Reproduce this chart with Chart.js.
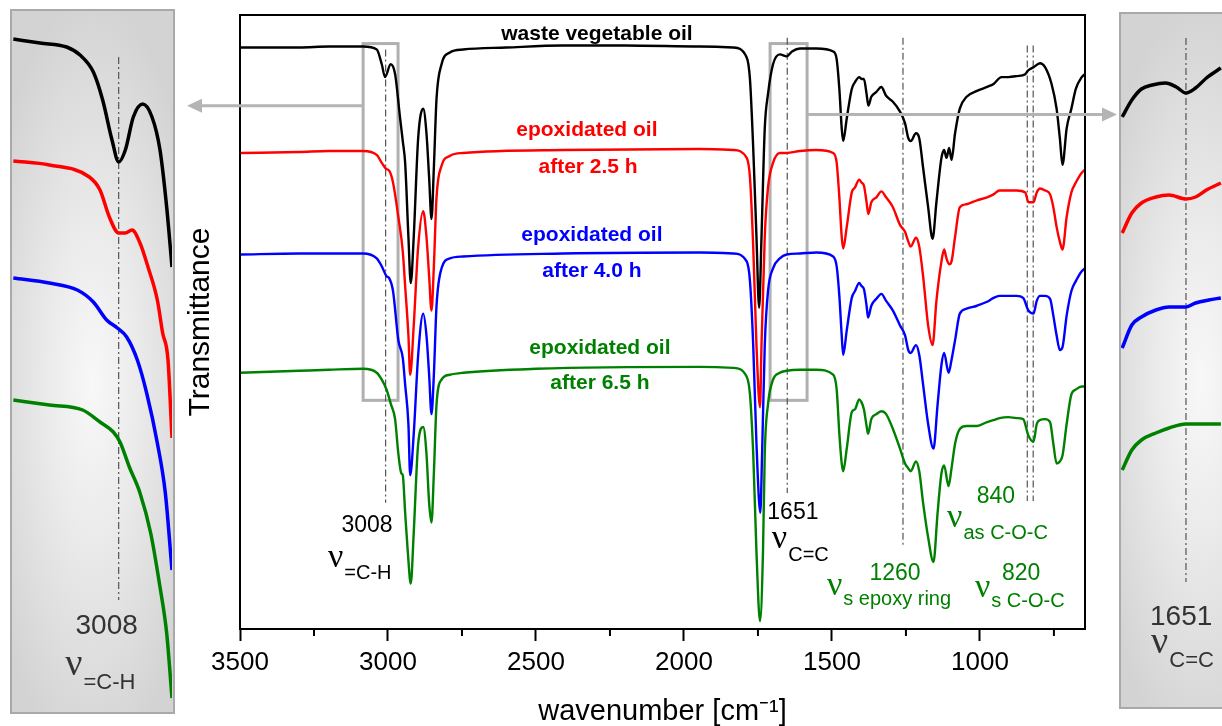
<!DOCTYPE html>
<html>
<head>
<meta charset="utf-8">
<script src="https://cdn.jsdelivr.net/npm/chart.js@4.4.0/dist/chart.umd.min.js"></script>
<style>
html, body { margin: 0; padding: 0; background: #fff; overflow: hidden; width: 1222px; height: 726px; }
#main { position: absolute; left: 0; top: 0; }
.inset { position: absolute; border: 2px solid #a9a9a9; box-sizing: border-box;
  background: radial-gradient(ellipse 70% 55% at 50% 53%, #f8f8f8 0%, #ebebeb 40%, #d3d3d3 100%); }
#insL { left: 10px; top: 9px; width: 165px; height: 705px; }
#insR { left: 1119px; top: 12px; width: 165px; height: 697px; }
.inset canvas { position: absolute; left: 0; top: 0; }
</style>
</head>
<body>
<canvas id="main" width="1222" height="726"></canvas>
<div class="inset" id="insL"><canvas id="cL" width="160" height="701"></canvas></div>
<div class="inset" id="insR"><canvas id="cR" width="160" height="693"></canvas></div>
<script>
// wavenumber [cm-1] and offset transmittance (arbitrary units)
var wnBlack = [3500,3300,3200,3084,3038,3021,3010,2991,2976,2959,2950,2942,2931,2923,2913,2898,2881,2870,2861,2853,2845,2836,2819,2791,2746,2600,2409,2200,1946,1834,1788,1777,1766,1755,1746,1738,1727,1716,1699,1676,1653,1635,1608,1552,1496,1484,1475,1467,1462,1450,1433,1422,1408,1400,1392,1383,1377,1367,1350,1333,1317,1294,1270,1253,1242,1234,1216,1205,1192,1175,1160,1147,1130,1121,1113,1104,1096,1084,1068,1045,1010,976,954,927,904,876,847,836,819,797,780,758,741,730,721,707,691,676,656,645];
var tBlack = [590,590,591,591,588,573,560,573,563,518,495,473,398,351,398,498,528,503,458,416,468,538,573,585,588,590,592,592,591,590,580,558,488,398,326,398,508,543,573,583,581,586,589,589,586,578,548,508,495,518,548,555,560,558,558,543,531,540,545,550,541,535,525,513,498,495,503,498,468,428,396,433,478,486,478,488,476,503,528,540,546,550,553,560,560,561,563,567,570,574,570,553,528,498,471,508,528,548,560,563];

var wnRed = [3500,3300,3200,3084,3038,3021,3007,2996,2983,2965,2950,2942,2931,2925,2913,2898,2881,2870,2861,2853,2845,2836,2819,2791,2746,2409,1946,1834,1788,1777,1766,1755,1743,1738,1727,1716,1699,1676,1653,1608,1552,1496,1484,1475,1467,1462,1450,1433,1422,1408,1400,1392,1383,1377,1367,1350,1333,1317,1294,1270,1253,1242,1234,1216,1205,1192,1175,1160,1147,1130,1121,1113,1104,1096,1084,1068,1045,1010,976,954,934,904,876,847,836,819,808,797,780,763,752,741,730,721,707,691,676,656,645];
var tRed = [483,484,485,485,481,473,467,465,453,418,383,348,298,258,308,388,424,398,358,323,368,438,470,480,483,486,487,486,478,458,388,288,225,288,398,448,473,483,483,485,486,483,473,438,398,386,408,443,448,456,453,450,433,421,433,438,444,438,428,410,403,393,388,397,388,358,308,288,333,373,385,376,370,373,398,428,431,435,438,441,445,445,445,443,433,433,443,447,445,441,428,408,393,385,418,443,453,463,466];

var wnBlue = [3500,3300,3200,3084,3038,3021,3005,2996,2983,2965,2950,2942,2931,2925,2913,2898,2881,2870,2861,2853,2845,2836,2819,2791,2746,2409,1946,1834,1788,1777,1766,1755,1742,1736,1727,1716,1699,1676,1653,1608,1552,1496,1484,1475,1467,1462,1450,1433,1422,1408,1400,1392,1383,1378,1367,1350,1333,1317,1294,1270,1253,1242,1234,1216,1205,1192,1175,1157,1143,1130,1121,1106,1096,1084,1068,1045,1010,976,954,934,904,876,854,836,819,808,797,780,763,752,741,730,721,707,691,676,656,645];
var tBlue = [380,381,381,381,376,368,358,356,343,293,275,248,208,156,198,278,320,298,258,218,258,328,366,376,378,381,382,381,373,353,288,188,118,178,288,343,366,376,380,381,382,378,368,338,298,278,303,336,343,351,348,345,328,316,328,335,340,333,323,308,298,283,280,288,278,248,208,183,228,268,280,260,273,293,320,325,328,332,336,338,338,338,336,323,320,333,338,338,335,318,298,283,286,318,343,353,363,366];

var wnGreen = [3500,3300,3200,3084,3038,3021,3005,2990,2976,2965,2955,2950,2942,2933,2923,2913,2898,2881,2870,2861,2853,2845,2836,2819,2791,2746,2500,1946,1834,1788,1777,1766,1755,1743,1733,1727,1716,1699,1676,1653,1608,1552,1496,1484,1475,1467,1462,1450,1433,1422,1408,1400,1392,1383,1378,1367,1350,1333,1317,1294,1270,1253,1242,1234,1216,1205,1192,1175,1157,1143,1130,1121,1106,1096,1084,1068,1045,1010,976,954,934,904,876,854,836,819,808,797,780,763,752,741,730,721,707,691,676,656,645];
var tGreen = [260,262,263,264,260,253,243,228,213,178,158,156,118,78,46,98,188,205,178,128,108,158,228,253,258,260,264,266,265,256,238,178,78,8,78,178,228,253,260,262,263,263,258,243,198,168,160,183,220,223,233,230,223,206,198,213,218,221,218,203,183,168,163,160,170,160,128,93,68,118,158,166,145,163,188,203,206,206,210,212,214,215,214,213,196,190,208,212,213,210,188,168,170,176,208,238,243,246,246];

// left inset (=C-H region, zoomed)
var wnInsL_black = [3087,3067,3047,3037,3027,3020,3013,3008,3003,2997,2990,2983,2977,2972,2968];
var tInsL_black = [673,669,665,657,640,612,572,550,562,595,608,595,562,505,445];
var wnInsL_red = [3087,3060,3030,3022,3015,3008,3003,2998,2992,2986,2979,2975,2971,2968];
var tInsL_red = [551,547,535,522,495,479,479,482,469,445,412,379,352,274];
var wnInsL_blue = [3087,3060,3039,3027,3017,3009,3002,2994,2987,2979,2973,2968];
var tInsL_blue = [434,429,422,410,392,384,375,352,319,269,219,142];
var wnInsL_green = [3087,3060,3035,3022,3012,3007,3000,2992,2984,2977,2972,2968];
var tInsL_green = [312,307,302,290,280,270,245,219,179,125,79,14];

// right inset (C=C region, zoomed)
var wnInsR_black = [1704,1696,1688,1679,1668,1659,1651,1643,1634,1622];
var tInsR_black = [590,607,618,622,624,620,614,619,629,639];
var wnInsR_red = [1704,1696,1688,1676,1665,1651,1643,1634,1622];
var tInsR_red = [474,494,504,510,512,508,510,517,524];
var wnInsR_blue = [1704,1696,1688,1676,1665,1651,1643,1632,1622];
var tInsR_blue = [359,382,390,397,400,400,404,407,409];
var wnInsR_green = [1704,1696,1688,1676,1665,1651,1622];
var tInsR_green = [237,257,267,274,279,283,283];

var majorTicks = [3500,3000,2500,2000,1500,1000];
var minorTicks = [3250,2750,2250,1750,1250,750];

var SANS = '"Liberation Sans", Arial, sans-serif';
var SERIF = '"Liberation Serif", "Times New Roman", serif';
var GREEN = '#008000';

function pts(xs, ys) {
  var out = [];
  for (var i = 0; i < xs.length; i++) out.push({x: xs[i], y: ys[i]});
  return out;
}
function line(xs, ys, color, w) {
  return { data: pts(xs, ys), borderColor: color, borderWidth: w, pointRadius: 0,
    fill: false, cubicInterpolationMode: 'monotone' };
}

function dashV(ctx, x, y1, y2) {
  ctx.save();
  ctx.strokeStyle = '#555';
  ctx.lineWidth = 1.2;
  ctx.setLineDash([7, 3, 2, 3]);
  ctx.beginPath(); ctx.moveTo(x, y1); ctx.lineTo(x, y2); ctx.stroke();
  ctx.restore();
}
function text(ctx, s, x, y, font, color) {
  ctx.save();
  ctx.font = font; ctx.fillStyle = color;
  ctx.textAlign = 'center'; ctx.textBaseline = 'middle';
  ctx.fillText(s, x, y);
  ctx.restore();
}
function nu(ctx, x, yBase, sub, dy, color, nuSize, subSize) {
  ctx.save();
  ctx.fillStyle = color; ctx.textAlign = 'left'; ctx.textBaseline = 'alphabetic';
  ctx.font = nuSize + 'px ' + SERIF;
  ctx.fillText('\u03bd', x, yBase);
  var w = ctx.measureText('\u03bd').width;
  ctx.font = subSize + 'px ' + SANS;
  ctx.fillText(sub, x + w + 1, yBase + dy);
  ctx.restore();
}
function arrow(ctx, x1, x2, y) {
  var dir = x2 > x1 ? 1 : -1;
  ctx.save();
  ctx.strokeStyle = '#b4b4b4'; ctx.fillStyle = '#b4b4b4'; ctx.lineWidth = 3;
  ctx.beginPath(); ctx.moveTo(x1, y); ctx.lineTo(x2 - dir * 12, y); ctx.stroke();
  ctx.beginPath(); ctx.moveTo(x2, y); ctx.lineTo(x2 - dir * 15, y - 7); ctx.lineTo(x2 - dir * 15, y + 7);
  ctx.closePath(); ctx.fill();
  ctx.restore();
}

var mainDecor = {
  id: 'mainDecor',
  beforeDatasetsDraw: function(chart) {
    var ctx = chart.ctx, xs = chart.scales.x, ys = chart.scales.y;
    // zoom boxes
    ctx.save();
    ctx.strokeStyle = '#b0b0b0'; ctx.lineWidth = 3;
    [[3084, 2966], [1709, 1584]].forEach(function(b) {
      var l = xs.getPixelForValue(b[0]), r = xs.getPixelForValue(b[1]);
      var t = ys.getPixelForValue(594), bt = ys.getPixelForValue(232);
      ctx.strokeRect(l, t, r - l, bt - t);
    });
    ctx.restore();
    // band markers
    [[3008, 588, 128], [1651, 600, 138], [1260, 600, 85], [840, 592, 130], [820, 592, 130]].forEach(function(d) {
      dashV(ctx, xs.getPixelForValue(d[0]), ys.getPixelForValue(d[1]), ys.getPixelForValue(d[2]));
    });
  },
  afterDraw: function(chart) {
    var ctx = chart.ctx, a = chart.chartArea, xs = chart.scales.x, ys = chart.scales.y;
    var X = function(v) { return xs.getPixelForValue(v); };
    var Y = function(v) { return ys.getPixelForValue(v); };
    // frame
    ctx.save();
    ctx.strokeStyle = '#000'; ctx.lineWidth = 2;
    ctx.strokeRect(a.left, a.top, a.right - a.left, a.bottom - a.top);
    // minor ticks
    ctx.beginPath();
    minorTicks.forEach(function(v) {
      var px = X(v);
      ctx.moveTo(px, a.bottom); ctx.lineTo(px, a.bottom + 7);
    });
    ctx.stroke();
    ctx.restore();
    // arrows to insets
    arrow(ctx, X(3084), 187, Y(531));
    arrow(ctx, X(1584), 1117, Y(522));
    // series labels
    var B = 'bold 21px ' + SANS;
    text(ctx, 'waste vegetable oil', X(2294), Y(604), B, '#000');
    text(ctx, 'epoxidated oil', X(2328), Y(506), B, '#ff0000');
    text(ctx, 'after 2.5 h', X(2324), Y(469), B, '#ff0000');
    text(ctx, 'epoxidated oil', X(2311), Y(400), B, '#0000ff');
    text(ctx, 'after 4.0 h', X(2311), Y(363), B, '#0000ff');
    text(ctx, 'epoxidated oil', X(2284), Y(285), B, GREEN);
    text(ctx, 'after 6.5 h', X(2284), Y(249), B, GREEN);
    // band labels
    var N = '23px ' + SANS;
    text(ctx, '3008', X(3071), Y(105), N, '#000');
    nu(ctx, X(3203), Y(63), '=C-H', 12, '#000', 34, 20);
    text(ctx, '1651', X(1632), Y(118), N, '#000');
    nu(ctx, X(1703), Y(82), 'C=C', 13, '#000', 34, 20);
    text(ctx, '840', X(946), Y(134), N, GREEN);
    nu(ctx, X(1111), Y(103), 'as C-O-C', 12, GREEN, 34, 20);
    text(ctx, '1260', X(1287), Y(56), N, GREEN);
    nu(ctx, X(1517), Y(35), 's epoxy ring', 10, GREEN, 34, 20);
    text(ctx, '820', X(861), Y(56), N, GREEN);
    nu(ctx, X(1017), Y(32), 's C-O-C', 10, GREEN, 34, 20);
  }
};

new Chart(document.getElementById('main'), {
  type: 'line',
  data: {
    datasets: [
      line(wnBlack, tBlack, '#000000', 2.4),
      line(wnRed, tRed, '#ff0000', 2.4),
      line(wnBlue, tBlue, '#0000ff', 2.4),
      line(wnGreen, tGreen, GREEN, 2.4)
    ]
  },
  options: {
    responsive: false,
    animation: false,
    events: [],
    layout: { padding: { left: 186, right: 137, top: 15, bottom: 0 } },
    plugins: { legend: { display: false }, tooltip: { enabled: false } },
    scales: {
      x: {
        type: 'linear', reverse: true, min: 645, max: 3500,
        afterBuildTicks: function(s) { s.ticks = majorTicks.map(function(v) { return {value: v}; }); },
        grid: { drawOnChartArea: false, tickLength: 12, tickWidth: 2, tickColor: '#000' },
        border: { display: false },
        ticks: { color: '#000', padding: 9, maxRotation: 0, autoSkip: false,
          callback: function(v) { return String(v); },
          font: { family: SANS, size: 26, lineHeight: 1 } },
        title: { display: true, text: 'wavenumber [cm\u207b\u00b9]', color: '#000',
          font: { family: SANS, size: 29, lineHeight: 1 }, padding: { top: 12, bottom: 0 } }
      },
      y: {
        min: 0, max: 623,
        ticks: { display: false },
        grid: { display: false, drawTicks: false },
        border: { display: false },
        title: { display: true, text: 'Transmittance', color: '#000',
          font: { family: SANS, size: 30, lineHeight: 1 }, padding: { top: 0, bottom: 24 } }
      }
    }
  },
  plugins: [mainDecor]
});

function insetChart(id, xmin, xmax, ymax, sets, marker) {
  new Chart(document.getElementById(id), {
    type: 'line',
    data: { datasets: sets },
    options: {
      responsive: false, animation: false, events: [],
      layout: { padding: 0 },
      plugins: { legend: { display: false }, tooltip: { enabled: false } },
      scales: {
        x: { type: 'linear', reverse: true, min: xmin, max: xmax, display: false },
        y: { min: 0, max: ymax, display: false }
      }
    },
    plugins: [{
      id: 'insetDecor',
      beforeDatasetsDraw: function(chart) {
        var ctx = chart.ctx, xs = chart.scales.x, ys = chart.scales.y;
        dashV(ctx, xs.getPixelForValue(marker.wn), ys.getPixelForValue(marker.top), ys.getPixelForValue(marker.bottom));
      },
      afterDraw: function(chart) {
        var ctx = chart.ctx, xs = chart.scales.x, ys = chart.scales.y;
        text(ctx, marker.label, xs.getPixelForValue(marker.lx), ys.getPixelForValue(marker.ly), '28px ' + SANS, '#333');
        nu(ctx, xs.getPixelForValue(marker.nx), ys.getPixelForValue(marker.ny), marker.sub, 14, '#333', 38, 22);
      }
    }]
  });
}

insetChart('cL', 2968, 3088, 701, [
  line(wnInsL_black, tInsL_black, '#000000', 3.5),
  line(wnInsL_red, tInsL_red, '#ff0000', 3.5),
  line(wnInsL_blue, tInsL_blue, '#0000ff', 3.5),
  line(wnInsL_green, tInsL_green, GREEN, 3.5)
], { wn: 3008, top: 655, bottom: 112, label: '3008', lx: 3017, ly: 86, nx: 3048, ny: 37, sub: '=C-H' });

insetChart('cR', 1572, 1705, 693, [
  line(wnInsR_black, tInsR_black, '#000000', 3.5),
  line(wnInsR_red, tInsR_red, '#ff0000', 3.5),
  line(wnInsR_blue, tInsR_blue, '#0000ff', 3.5),
  line(wnInsR_green, tInsR_green, GREEN, 3.5)
], { wn: 1651, top: 669, bottom: 125, label: '1651', lx: 1655, ly: 90, nx: 1680, ny: 54, sub: 'C=C' });
</script>
</body>
</html>
